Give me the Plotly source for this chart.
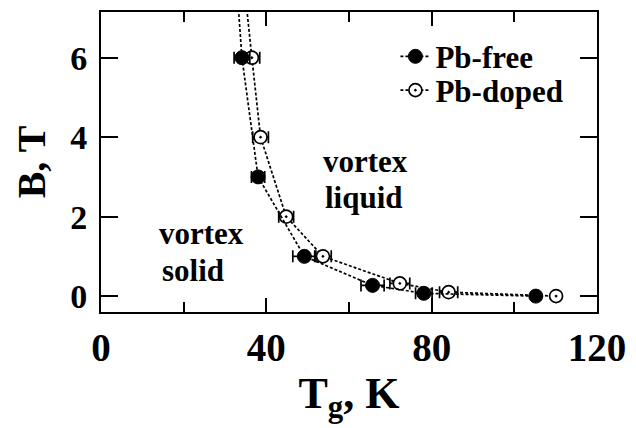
import plotly.graph_objects as go

# Data
free_T = [34.1, 38.0, 49.2, 65.7, 78.1, 105.2]
free_B = [6.0, 3.0, 1.0, 0.27, 0.07, 0.0]
free_err = [1.9, 1.6, 2.8, 2.8, 2.0, 0.6]

doped_T = [36.5, 38.6, 44.8, 53.7, 72.3, 84.1, 110.1]
doped_B = [6.0, 4.0, 2.0, 1.0, 0.32, 0.1, 0.0]
doped_err = [1.9, 1.9, 1.8, 2.0, 2.4, 2.2, 0.6]

# upward continuation of the dotted guide lines beyond the top of the frame
free_ext_T = [33.0, 34.1]
free_ext_B = [7.6, 6.0]
doped_ext_T = [34.9, 36.5]
doped_ext_B = [7.6, 6.0]

x_ticks = [0, 40, 80, 120]
x_minor = [20, 60, 100]
y_ticks = [0, 2, 4, 6]

region_labels = ["vortex", "liquid", "vortex", "solid"]

FONT = "Liberation Serif"
dot = "3px,2px"
L, R, T, B = 101, 38, 10, 116
PW, PH = 636 - L - R, 428 - T - B


def px(xp):
    return (xp - L) / PW


def py(yp):
    return (428 - B - yp) / PH


fig = go.Figure()
fig.add_trace(go.Scatter(x=free_ext_T, y=free_ext_B, mode="lines",
                         line=dict(color="black", width=1.7, dash=dot),
                         showlegend=False, hoverinfo="skip"))
fig.add_trace(go.Scatter(x=doped_ext_T, y=doped_ext_B, mode="lines",
                         line=dict(color="black", width=1.7, dash=dot),
                         showlegend=False, hoverinfo="skip"))
fig.add_trace(go.Scatter(
    x=doped_T, y=doped_B, mode="lines+markers", name="Pb-doped", legend="legend2",
    line=dict(color="black", width=1.7, dash=dot),
    marker=dict(symbol="circle-dot", size=13, color="white",
                line=dict(color="black", width=1.7)),
    error_x=dict(type="data", array=doped_err, color="black", thickness=1.7, width=6),
))
fig.add_trace(go.Scatter(
    x=free_T, y=free_B, mode="lines+markers", name="Pb-free", legend="legend",
    line=dict(color="black", width=1.7, dash=dot),
    marker=dict(symbol="circle", size=14, color="black",
                line=dict(color="black", width=1)),
    error_x=dict(type="data", array=free_err, color="black", thickness=1.7, width=6),
))

ann_font = dict(family=FONT, size=31, color="black", weight="bold")
positions = [(321, 160), (323, 197), (157, 233), (160, 270)]
for txt, (xp, yp) in zip(region_labels, positions):
    fig.add_annotation(x=px(xp), y=py(yp), xref="paper", yref="paper",
                       showarrow=False, text=txt, xanchor="left",
                       yanchor="middle", font=ann_font)

leg_common = dict(xanchor="left", yanchor="middle", bgcolor="rgba(0,0,0,0)",
                  font=dict(family=FONT, size=31, color="black", weight="bold"),
                  itemwidth=30)

fig.update_layout(
    width=636, height=428,
    margin=dict(l=L, r=R, t=T, b=B),
    paper_bgcolor="white", plot_bgcolor="white",
    font=dict(family=FONT, color="black", weight="bold"),
    showlegend=True,
    legend=dict(x=px(396), y=py(55), **leg_common),
    legend2=dict(x=px(396), y=py(89), **leg_common),
    xaxis=dict(range=[0, 120], tickvals=x_ticks, ticks="inside", ticklen=14,
               tickwidth=1.5, tickcolor="black", mirror="ticks", showline=True,
               linecolor="black", linewidth=2, showgrid=False, zeroline=False,
               minor=dict(tickvals=x_minor, ticks="inside", ticklen=10,
                          tickwidth=1.5, tickcolor="black", showgrid=False),
               tickfont=dict(family=FONT, size=39, color="black", weight="bold"),
               ticklabelstandoff=0,
               title=dict(text="T<sub>g</sub>, K", standoff=9,
                          font=dict(family=FONT, size=44, color="black", weight="bold"))),
    yaxis=dict(range=[-0.4, 7.15], tickvals=y_ticks, ticks="inside", ticklen=17,
               tickwidth=1.5, tickcolor="black", mirror="ticks", showline=True,
               linecolor="black", linewidth=2, showgrid=False, zeroline=False,
               tickfont=dict(family=FONT, size=34, color="black", weight="bold"),
               ticklabelstandoff=5,
               title=dict(text="B, T", standoff=12,
                          font=dict(family=FONT, size=40, color="black", weight="bold"))),
)

fig.write_html("out.html")
